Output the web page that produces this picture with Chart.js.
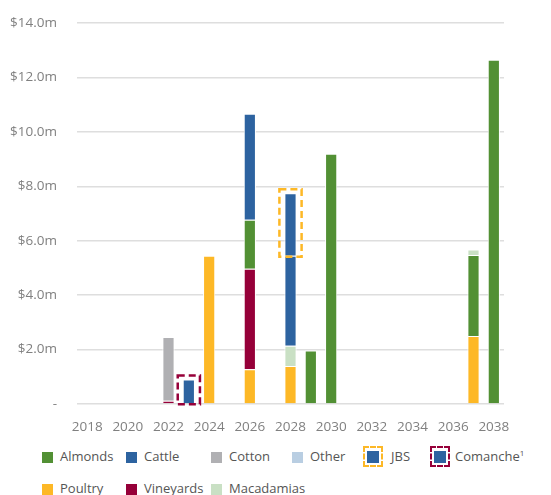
<!DOCTYPE html>
<html>
<head>
<meta charset="utf-8">
<script src="https://cdn.jsdelivr.net/npm/chart.js@4"></script>
<style>
  body { margin: 0; background: #fff; font-family: "Open Sans", sans-serif; overflow: hidden; }
  #wrap { position: absolute; left: 0; top: -5px; width: 551px; height: 445px; }
  #legend { position: absolute; left: 0; top: 440px; width: 551px; height: 55px; }
  .item { position: absolute; font-size: 13px; color: #555; white-space: nowrap; }
  .box { position: absolute; width: 11px; height: 11px; }
  .frame { position: absolute; width: 16px; height: 17px; border: 2px dashed; }
  .frame .box { left: 2px; top: 3px; width: 12px; height: 12px; }
  sup { font-size: 8px; }
</style>
</head>
<body>
<div id="wrap"><canvas id="chart"></canvas></div>
<div id="legend"></div>
<script>
  // Years 2018 - 2038
  const years = ["2018", "2019", "2020", "2021", "2022", "2023", "2024", "2025", "2026", "2027", "2028",
                 "2029", "2030", "2031", "2032", "2033", "2034", "2035", "2036", "2037", "2038"];

  // Values in $m, stacked bottom to top
  const poultry    = [null, null, null, null, null, null, 5.45, null, 1.28, null, 1.4, null, null, null, null, null, null, null, null, 2.5, null];
  const vineyards  = [null, null, null, null, 0.12, null, null, null, 3.69, null, null, null, null, null, null, null, null, null, null, null, null];
  const almonds    = [null, null, null, null, null, null, null, null, 1.8, null, null, 1.97, 9.2, null, null, null, null, null, null, 2.98, 12.65];
  const macadamias = [null, null, null, null, null, null, null, null, null, null, 0.74, null, null, null, null, null, null, null, null, 0.2, null];
  const cotton     = [null, null, null, null, 2.34, null, null, null, null, null, null, null, null, null, null, null, null, null, null, null, null];
  const cattle     = [null, null, null, null, null, null, null, null, 3.9, null, 3.31, null, null, null, null, null, null, null, null, null, null];
  const jbs        = [null, null, null, null, null, null, null, null, null, null, 2.3, null, null, null, null, null, null, null, null, null, null];
  const comanche   = [null, null, null, null, null, 0.9, null, null, null, null, null, null, null, null, null, null, null, null, null, null, null];
  const other      = [null, null, null, null, null, null, null, null, null, null, null, null, null, null, null, null, null, null, null, null, null];

  const yTicks = [0, 2, 4, 6, 8, 10, 12, 14];

  const colors = {
    Almonds: "#529034",
    Cattle: "#2d63a0",
    Cotton: "#b0b0b3",
    Other: "#b9cee2",
    Poultry: "#fdb826",
    Vineyards: "#960039",
    Macadamias: "#c9e0c4"
  };

  function ds(label, data, color, dashBox) {
    return {
      label: label,
      data: data,
      backgroundColor: color,
      borderColor: "#ffffff",
      borderWidth: 1,
      stack: "s",
      dashBox: dashBox || null
    };
  }

  // dashed frames around JBS and Comanche bars
  const dashBoxPlugin = {
    id: "dashBox",
    afterDatasetsDraw(chart) {
      const ctx = chart.ctx;
      chart.data.datasets.forEach((d, i) => {
        if (!d.dashBox) return;
        const meta = chart.getDatasetMeta(i);
        meta.data.forEach((bar, j) => {
          if (d.data[j] == null) return;
          const p = bar.getProps(["x", "y", "base", "width"], true);
          ctx.save();
          ctx.strokeStyle = d.dashBox;
          ctx.lineWidth = 2.5;
          ctx.setLineDash([7, 4]);
          const left = p.x - p.width / 2 - 5;
          const right = p.x + p.width / 2 + 5;
          ctx.strokeRect(left, p.y - 4, right - left, p.base - p.y + 5);
          ctx.restore();
        });
      });
    }
  };

  const chart = new Chart(document.getElementById("chart").getContext("2d"), {
    type: "bar",
    data: {
      labels: years,
      datasets: [
        ds("Poultry", poultry, colors.Poultry),
        ds("Vineyards", vineyards, colors.Vineyards),
        ds("Almonds", almonds, colors.Almonds),
        ds("Macadamias", macadamias, colors.Macadamias),
        ds("Cotton", cotton, colors.Cotton),
        ds("Cattle", cattle, colors.Cattle),
        ds("JBS", jbs, colors.Cattle, "#fdb826"),
        ds("Comanche", comanche, colors.Cattle, "#960039"),
        ds("Other", other, colors.Other)
      ]
    },
    options: {
      responsive: true,
      maintainAspectRatio: false,
      animation: false,
      layout: { padding: { left: 0, right: 47, top: 17, bottom: 0 } },
      datasets: { bar: { barPercentage: 0.6, categoryPercentage: 1 } },
      plugins: { legend: { display: false }, tooltip: { enabled: false } },
      scales: {
        x: {
          stacked: true,
          grid: { display: false },
          border: { display: false },
          afterFit: (s) => { s.height = 36; },
          ticks: {
            autoSkip: false,
            maxRotation: 0,
            padding: 7,
            color: "#808080",
            font: { family: "Open Sans", size: 13.5 },
            callback: (v, i) => (i % 2 === 0 ? years[i] : "")
          }
        },
        y: {
          stacked: true,
          min: 0,
          max: 14,
          afterFit: (s) => { s.width = 77; },
          afterBuildTicks: (s) => { s.ticks = yTicks.map((v) => ({ value: v })); },
          grid: { color: "#dedede", lineWidth: 1.5, drawTicks: false },
          border: { display: false },
          ticks: {
            padding: 20,
            color: "#808080",
            font: { family: "Open Sans", size: 13.5 },
            callback: (v) => (v === 0 ? "-" : "$" + v.toFixed(1) + "m")
          }
        }
      }
    },
    plugins: [dashBoxPlugin]
  });

  // legend, laid out like the original
  const legendItems = [
    { name: "Almonds", x: 42, row: 0 },
    { name: "Cattle", x: 126, row: 0 },
    { name: "Cotton", x: 211, row: 0 },
    { name: "Other", x: 292, row: 0 },
    { name: "JBS", x: 363, row: 0, frame: "#fdb826" },
    { name: "Comanche", x: 430, row: 0, frame: "#960039", sup: "1" },
    { name: "Poultry", x: 42, row: 1 },
    { name: "Vineyards", x: 126, row: 1 },
    { name: "Macadamias", x: 211, row: 1 }
  ];
  const legend = document.getElementById("legend");
  legendItems.forEach((it) => {
    const top = it.row === 0 ? 17 : 49;
    if (it.frame) {
      const f = document.createElement("div");
      f.className = "frame";
      f.style.left = it.x + "px";
      f.style.top = (top - 11) + "px";
      f.style.borderColor = it.frame;
      const b = document.createElement("div");
      b.className = "box";
      b.style.background = colors.Cattle;
      f.appendChild(b);
      legend.appendChild(f);
    } else {
      const b = document.createElement("div");
      b.className = "box";
      b.style.left = it.x + "px";
      b.style.top = (top - 5) + "px";
      b.style.background = colors[it.name];
      legend.appendChild(b);
    }
    const t = document.createElement("div");
    t.className = "item";
    t.style.left = (it.frame ? it.x + (it.name === "JBS" ? 28 : 25) : it.x + 18) + "px";
    t.style.top = (top - 10) + "px";
    t.innerHTML = it.name + (it.sup ? "<sup>" + it.sup + "</sup>" : "");
    legend.appendChild(t);
  });
</script>
</body>
</html>
